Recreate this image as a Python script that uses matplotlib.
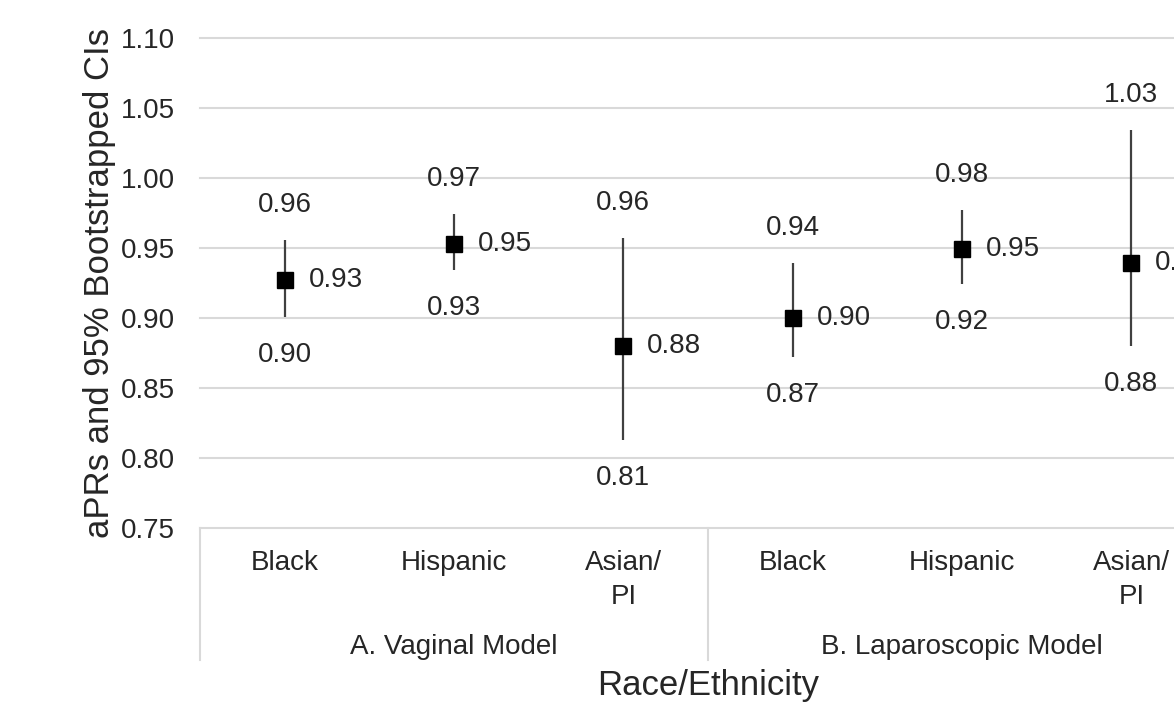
import matplotlib
matplotlib.use("Agg")
from matplotlib import pyplot as plt
import matplotlib.transforms as mtransforms

plt.rcParams['font.family'] = ['Liberation Sans', 'DejaVu Sans']

# data
categories = ["Black", "Hispanic", "Asian/\nPI", "Black", "Hispanic", "Asian/\nPI"]
groups = ["A. Vaginal Model", "B. Laparoscopic Model"]
apr = [0.927, 0.953, 0.880, 0.900, 0.949, 0.939]
ci_low = [0.901, 0.934, 0.813, 0.872, 0.924, 0.880]
ci_high = [0.956, 0.974, 0.957, 0.939, 0.977, 1.034]
yticks = [0.75, 0.80, 0.85, 0.90, 0.95, 1.00, 1.05, 1.10]

txt = '#262626'
grid = '#d9d9d9'
fs = 20

fig = plt.figure(figsize=(11.74, 7.05), dpi=100)
# axes deliberately runs past the right edge (reference is cropped)
ax = fig.add_axes([200 / 1174, 1 - 528 / 705, 1016 / 1174, 490 / 705])

x = list(range(len(categories)))
err_lo = [a - l for a, l in zip(apr, ci_low)]
err_hi = [h - a for a, h in zip(apr, ci_high)]
ax.errorbar(x, apr, yerr=[err_lo, err_hi], fmt='s', color='black',
            ecolor='#404040', elinewidth=1.6, capsize=0, markersize=12, zorder=3)

for i in x:
    ax.annotate(f"{ci_high[i]:.2f}", (i, ci_high[i]), xytext=(0, 35),
                textcoords='offset pixels', ha='center', va='center',
                fontsize=fs, color=txt)
    ax.annotate(f"{ci_low[i]:.2f}", (i, ci_low[i]), xytext=(0, -38),
                textcoords='offset pixels', ha='center', va='center',
                fontsize=fs, color=txt)
    ax.annotate(f"{apr[i]:.2f}", (i, apr[i]), xytext=(24, 0),
                textcoords='offset pixels', ha='left', va='center',
                fontsize=fs, color=txt)

ax.set_xlim(-0.5, 5.5)
ax.set_ylim(0.75, 1.10)
ax.set_yticks(yticks)
ax.set_yticklabels([f"{t:.2f}" for t in yticks])
ax.set_xticks([])
ax.tick_params(axis='y', length=0, pad=18, labelsize=fs, labelcolor=txt)
ax.yaxis.grid(True, color=grid, linewidth=1.5)
for gl in ax.get_ygridlines():
    gl.set_clip_on(False)
ax.set_axisbelow(True)
for s in ax.spines.values():
    s.set_visible(False)

# category axis below the plot
trans = mtransforms.blended_transform_factory(ax.transData, ax.transAxes)
for i, c in enumerate(categories):
    ax.text(i, -0.045, c, transform=trans, ha='center', va='top',
            fontsize=fs, color=txt, linespacing=1.4)
for g, gname in enumerate(groups):
    ax.text(3 * g + 1, -0.243, gname, transform=trans, ha='center', va='center',
            fontsize=fs, color=txt)
for xb in [-0.5, 2.5, 5.5]:
    ax.plot([xb, xb], [0, -0.27], transform=trans, color=grid,
            linewidth=1.5, clip_on=False)

fig.text(708 / 1174, 1 - 686 / 705, "Race/Ethnicity", ha='center', va='center',
         fontsize=25, color=txt)
fig.text(100 / 1174, 1 - 283 / 705, "aPRs and 95% Bootstrapped CIs",
         rotation=90, ha='center', va='center', fontsize=25, color=txt)

fig.savefig("out.png", dpi=100)
